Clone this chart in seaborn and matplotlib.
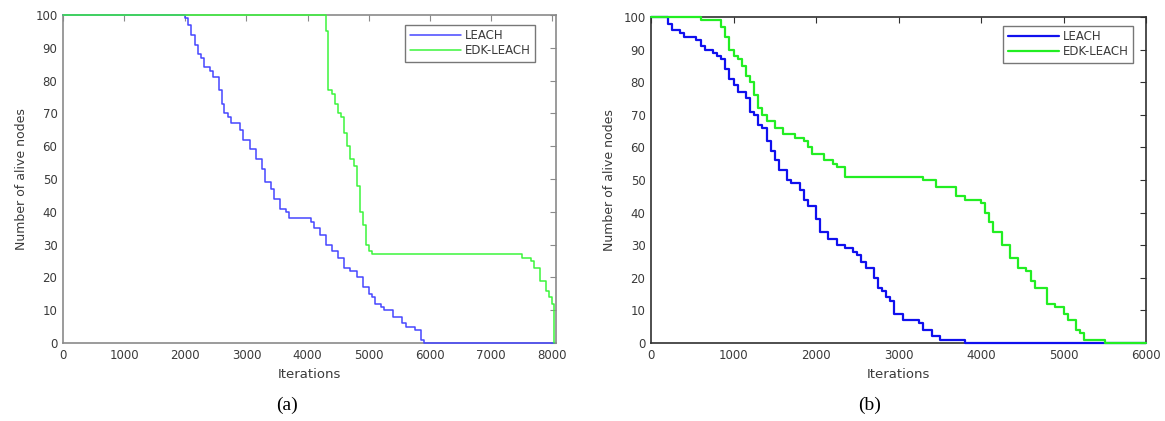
import numpy as np
import pandas as pd
import matplotlib
matplotlib.use("Agg")
import matplotlib.pyplot as plt
import seaborn as sns

# (a) number of alive nodes per iteration, step points
a_leach_x = [0, 2000, 2050, 2100, 2150, 2200, 2250, 2300, 2400, 2450, 2550, 2600, 2630, 2700,
             2750, 2900, 2950, 3050, 3150, 3250, 3300, 3400, 3450, 3550, 3650, 3700, 4050,
             4100, 4200, 4300, 4400, 4500, 4600, 4700, 4800, 4900, 5000, 5050, 5100, 5200,
             5250, 5400, 5550, 5600, 5750, 5850, 5900, 5930, 8030]
a_leach_y = [100, 99, 97, 94, 91, 88, 87, 84, 83, 81, 77, 73, 70, 69,
             67, 65, 62, 59, 56, 53, 49, 47, 44, 41, 40, 38,
             37, 35, 33, 30, 28, 26, 23, 22, 20, 17, 15, 14, 12,
             11, 10, 8, 6, 5, 4, 1, 0, 0, 0]
a_edk_x = [0, 4300, 4330, 4350, 4400, 4450, 4500, 4550, 4600, 4650, 4700, 4750, 4800, 4850,
           4900, 4950, 5000, 5050, 7500, 7650, 7700, 7800, 7900, 7950, 8000, 8030]
a_edk_y = [100, 95, 77, 77, 76, 73, 70, 69, 64, 60, 56, 54, 48, 40,
           36, 30, 28, 27, 26, 25, 23, 19, 16, 14, 12, 0]

# (b)
b_leach_x = [0, 200, 250, 350, 400, 550, 600, 650, 750, 800, 850, 900, 950, 1000, 1050,
             1150, 1200, 1250, 1300, 1350, 1400, 1450, 1500, 1550, 1650, 1700, 1800, 1850,
             1900, 2000, 2050, 2150, 2250, 2350, 2450, 2500, 2550, 2600, 2700, 2750, 2800,
             2850, 2900, 2950, 3050, 3250, 3300, 3400, 3500, 3800, 6000]
b_leach_y = [100, 98, 96, 95, 94, 93, 91, 90, 89, 88, 87, 84, 81, 79, 77,
             75, 71, 70, 67, 66, 62, 59, 56, 53, 50, 49, 47, 44,
             42, 38, 34, 32, 30, 29, 28, 27, 25, 23, 20, 17, 16,
             14, 13, 9, 7, 6, 4, 2, 1, 0, 0]
b_edk_x = [0, 600, 850, 900, 950, 1000, 1050, 1100, 1150, 1200, 1250, 1300, 1350, 1400,
           1500, 1600, 1750, 1850, 1900, 1950, 2100, 2200, 2250, 2350, 3300, 3450, 3700,
           3800, 4000, 4050, 4100, 4150, 4250, 4350, 4450, 4550, 4600, 4650, 4800, 4900,
           5000, 5050, 5150, 5200, 5250, 5500, 6000]
b_edk_y = [100, 99, 97, 94, 90, 88, 87, 85, 82, 80, 76, 72, 70, 68,
           66, 64, 63, 62, 60, 58, 56, 55, 54, 51, 50, 48, 45,
           44, 43, 40, 37, 34, 30, 26, 23, 22, 19, 17, 12, 11,
           9, 7, 4, 3, 1, 0, 0]

series_names = ["LEACH", "EDK-LEACH"]
x_ticks_a = [0, 1000, 2000, 3000, 4000, 5000, 6000, 7000, 8000]
x_ticks_b = [0, 1000, 2000, 3000, 4000, 5000, 6000]
y_ticks = [0, 10, 20, 30, 40, 50, 60, 70, 80, 90, 100]

sns.set_style("white")
plt.rcParams["font.family"] = ["DejaVu Sans"]

fig = plt.figure(figsize=(11.65, 4.21), dpi=100)
ax_a = fig.add_axes([63 / 1165, 1 - 343 / 421, (556 - 63) / 1165, (343 - 15) / 421])
ax_b = fig.add_axes([651 / 1165, 1 - 343 / 421, (1146 - 651) / 1165, (343 - 17) / 421])


def make_df(lx, ly, ex, ey):
    d1 = pd.DataFrame({"x": lx, "y": ly, "s": series_names[0]})
    d2 = pd.DataFrame({"x": ex, "y": ey, "s": series_names[1]})
    return pd.concat([d1, d2], ignore_index=True)


panels = [
    (ax_a, make_df(a_leach_x, a_leach_y, a_edk_x, a_edk_y), ["#4646ff", "#3cf53c"], 1.1,
     (0, 8060), x_ticks_a, "#8a8a8a", (535 / 1165, 1 - 25 / 421), "(a)", 287 / 1165),
    (ax_b, make_df(b_leach_x, b_leach_y, b_edk_x, b_edk_y), ["#1010ee", "#22ee22"], 1.6,
     (0, 6000), x_ticks_b, "#303030", (1133 / 1165, 1 - 26 / 421), "(b)", 870 / 1165),
]

for ax, df, pal, lw, xlim, xt, spine_c, leg_pos, tag, tag_x in panels:
    sns.lineplot(data=df, x="x", y="y", hue="s", palette=pal, estimator=None, sort=False,
                 drawstyle="steps-post", linewidth=lw, ax=ax, legend=False,
                 clip_on=False, zorder=3)
    ax.set_xlim(*xlim)
    ax.set_ylim(0, 100)
    ax.set_xticks(xt)
    ax.set_yticks(y_ticks)
    ax.tick_params(direction="in", length=4, width=0.8, colors=spine_c, labelsize=8.5,
                   labelcolor="#3a3a3a", top=True, right=True, pad=4)
    for sp in ax.spines.values():
        sp.set_visible(True)
        sp.set_color(spine_c)
        sp.set_linewidth(1.2)
        sp.set_zorder(2)
    ax.set_xlabel("Iterations", fontsize=9.5, color="#3a3a3a", labelpad=5)
    ax.set_ylabel("Number of alive nodes", fontsize=9, color="#3a3a3a", labelpad=5)
    handles = [plt.Line2D([], [], color=c, lw=lw) for c in pal]
    leg = ax.legend(handles, series_names, loc="upper right", bbox_to_anchor=leg_pos,
                    bbox_transform=fig.transFigure, borderaxespad=0, fontsize=8.5,
                    handlelength=4.4, handletextpad=0.3, labelspacing=0.2,
                    borderpad=0.35, fancybox=False, frameon=True)
    leg.get_frame().set_edgecolor("#555555")
    leg.get_frame().set_linewidth(1.0)
    for t in leg.get_texts():
        t.set_color("#3a3a3a")
    fig.text(tag_x, 1 - 405 / 421, tag, ha="center", va="center", fontsize=14,
             family="Liberation Serif", color="black")

fig.savefig("out.png", dpi=100)
